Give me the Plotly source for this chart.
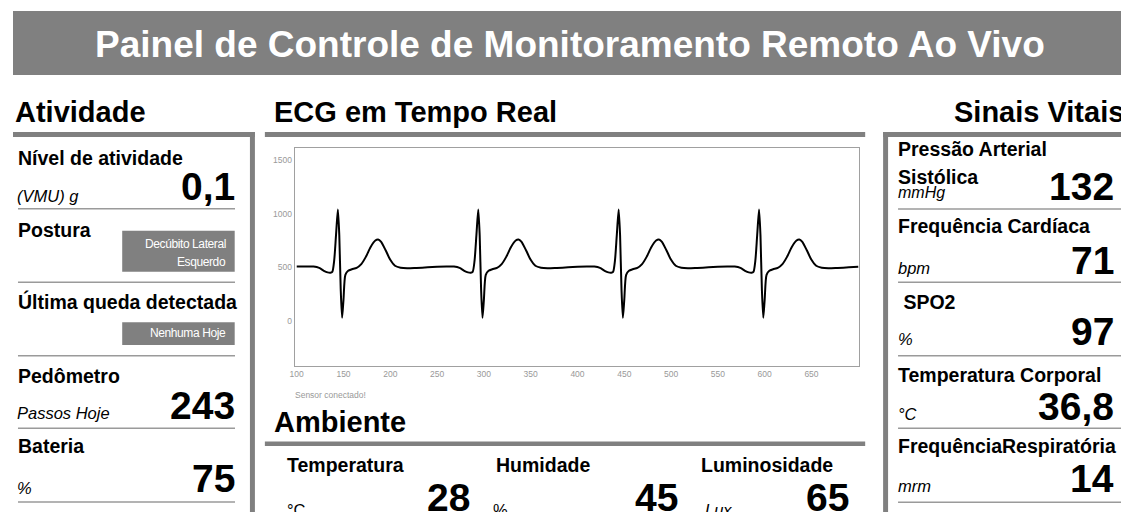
import plotly.graph_objects as go

OFF = 8                      # page body margin
W, H = 1129 - OFF, 512 - OFF
FONT = "Liberation Sans, Arial, Helvetica, sans-serif"
GRAY = "#808080"
SEP = "#9a9a9a"

# ---------------- data ----------------
TITLE = "Painel de Controle de Monitoramento Remoto Ao Vivo"
SECTIONS = ["Atividade", "ECG em Tempo Real", "Ambiente", "Sinais Vitais"]

ACT_LABELS = ["Nível de atividade", "Postura", "Última queda detectada", "Pedômetro", "Bateria"]
ACT_UNITS = ["(VMU) g", "", "", "Passos Hoje", "%"]
ACT_VALUES = ["0,1", "Decúbito Lateral<br>Esquerdo", "Nenhuma Hoje", "243", "75"]

VIT_LABELS = ["Pressão Arterial<br>Sistólica", "Frequência Cardíaca", " SPO2",
              "Temperatura Corporal", "FrequênciaRespiratória"]
VIT_UNITS = ["mmHg", "bpm", "%", "°C", "mrm"]
VIT_VALUES = ["132", "71", "97", "36,8", "14"]

ENV_LABELS = ["Temperatura", "Humidade", "Luminosidade"]
ENV_UNITS = ["°C", "%", "Lux"]
ENV_VALUES = ["28", "45", "65"]

STATUS = "Sensor conectado!"

ECG_X = [
    100, 110, 118, 124, 129, 133, 136, 138, 140, 142, 144, 145.5, 147, 148.5, 150, 152, 155, 159,
    164, 169, 174, 179, 184, 187, 190, 195, 200, 205, 211, 218, 228, 240,
    250, 260, 268, 274, 279, 283, 286, 288, 290, 292, 294, 295.5, 297, 298.5, 300, 302, 305, 309,
    314, 319, 324, 329, 334, 337, 340, 345, 350, 355, 361, 368, 378, 390,
    400, 410, 418, 424, 429, 433, 436, 438, 440, 442, 444, 445.5, 447, 448.5, 450, 452, 455, 459,
    464, 469, 474, 479, 484, 487, 490, 495, 500, 505, 511, 518, 528, 540,
    550, 560, 568, 574, 579, 583, 586, 588, 590, 592, 594, 595.5, 597, 598.5, 600, 602, 605, 609,
    614, 619, 624, 629, 634, 637, 640, 645, 650, 655, 661, 668, 678, 690,
    700,
]
ECG_Y = [
    508, 508, 507, 495, 468, 453, 450, 458, 560, 800, 1040, 800, 300, 30, 200, 430, 468, 482,
    495, 530, 600, 690, 750, 760, 740, 660, 570, 515, 497, 492, 495, 500,
    505, 508, 507, 495, 468, 453, 450, 458, 560, 800, 1040, 800, 300, 30, 200, 430, 468, 482,
    495, 530, 600, 690, 750, 760, 740, 660, 570, 515, 497, 492, 495, 500,
    505, 508, 507, 495, 468, 453, 450, 458, 560, 800, 1040, 800, 300, 30, 200, 430, 468, 482,
    495, 530, 600, 690, 750, 760, 740, 660, 570, 515, 497, 492, 495, 500,
    505, 508, 507, 495, 468, 453, 450, 458, 560, 800, 1040, 800, 300, 30, 200, 430, 468, 482,
    495, 530, 600, 690, 750, 760, 740, 660, 570, 515, 497, 492, 495, 500,
    505,
]
X_TICKS = [100, 150, 200, 250, 300, 350, 400, 450, 500, 550, 600, 650]
Y_TICKS = [0, 500, 1000, 1500]

# ---------------- helpers (screen pixel -> paper) ----------------
ann = []
shp = []


def X(p):
    return (p - OFF) / W


def Y(p):
    return 1 - (p - OFF) / H


def text(x, base, s, size, anchor="left", bold=False, italic=False, color="#000000", spacing=None):
    if spacing is not None:
        s = f'<span style="letter-spacing:{spacing}px">{s}</span>'
    ann.append(dict(
        x=X(x), y=Y(base - 0.35 * size), xref="paper", yref="paper", text=s,
        showarrow=False, xanchor=anchor, yanchor="middle", borderpad=0, borderwidth=0,
        font=dict(family=FONT, size=size, color=color,
                  weight="bold" if bold else "normal",
                  style="italic" if italic else "normal"),
    ))


def rect(x0, y0, x1, y1, color):
    shp.append(dict(type="rect", xref="paper", yref="paper", x0=X(x0), x1=X(x1),
                    y0=Y(y1), y1=Y(y0), fillcolor=color, line=dict(width=0), layer="below"))


def hline(x0, x1, y, color=SEP, width=1.5):
    shp.append(dict(type="line", xref="paper", yref="paper", x0=X(x0), x1=X(x1),
                    y0=Y(y), y1=Y(y), line=dict(color=color, width=width)))


# ---------------- title ----------------
rect(8, 11, 1129, 75, GRAY)
text(567, 57.5, TITLE, 37, anchor="center", bold=True, color="#ffffff")

# ---------------- section headings & frames ----------------
HS = 29
text(10, 122.3, SECTIONS[0], HS, bold=True)
text(270, 122.3, SECTIONS[1], HS, bold=True)
text(270, 432, SECTIONS[2], HS, bold=True)
text(1123.5, 122.3, SECTIONS[3], HS, anchor="right", bold=True)

rect(8, 132, 251, 137, GRAY)       # activity top bar
rect(246, 132, 251, 512, GRAY)     # activity right bar
rect(261, 132, 864, 137, GRAY)     # ECG top bar
rect(261, 441.5, 864, 446, GRAY)   # ambient top bar
rect(882, 132, 1129, 137, GRAY)    # vitals top bar
rect(882, 132, 887, 512, GRAY)     # vitals left bar

LS, US, VS = 19.5, 16.5, 39

# ---------------- activity panel ----------------
act_label_base = [165, 236.7, 308.3, 383.3, 453.3]
act_unit_base = [201.7, None, None, 418.3, 494]
act_value_base = [200, None, None, 419.3, 491.7]
act_sep = [208.7, 282.3, 355.7, 428.3, 502]
act_box = [None, (230.7, 271.7, [248, 266]), (322.3, 345, [337]), None, None]

for i, lab in enumerate(ACT_LABELS):
    text(13, act_label_base[i], lab, LS, bold=True)
    if act_box[i] is not None:
        y0, y1, bases = act_box[i]
        rect(117.7, y0, 230.7, y1, GRAY)
        for ln, b in zip(ACT_VALUES[i].split("<br>"), bases):
            text(222, b, ln, 12, anchor="right", color="#ffffff", spacing=-0.4)
    else:
        text(12, act_unit_base[i], ACT_UNITS[i], US, italic=True)
        text(230.5, act_value_base[i], ACT_VALUES[i], VS, anchor="right", bold=True)
    hline(13, 231, act_sep[i])

# ---------------- vitals panel ----------------
vit_label_base = [[156, 184], [232.7], [309.3], [381.7], [453.3]]
vit_unit_base = [198, 273.3, 345, 420, 491.7]
vit_value_base = [200, 274.3, 345, 420, 491.7]
vit_sep = [209, 282.3, 355.7, 428.3, 502.3]

for i, lab in enumerate(VIT_LABELS):
    for ln, b in zip(lab.split("<br>"), vit_label_base[i]):
        text(897, b, ln.replace(" ", "&nbsp;") if ln.startswith(" ") else ln, LS, bold=True)
    text(897, vit_unit_base[i], VIT_UNITS[i], 16 if i == 0 else US, italic=True)
    text(1113.5, vit_value_base[i], VIT_VALUES[i], VS, anchor="right", bold=True)
    hline(897, 1123, vit_sep[i])

# ---------------- ambient row ----------------
env_label_x = [283, 493, 699]
env_unit_x = [283, 490, 703]
env_value_x = [467, 676, 848]
for i, lab in enumerate(ENV_LABELS):
    text(env_label_x[i], 471.7, lab, LS, bold=True)
    text(env_unit_x[i], 516, ENV_UNITS[i], US, italic=(i == 2))
    text(env_value_x[i], 511, ENV_VALUES[i], VS, anchor="right", bold=True)

# ---------------- ECG ----------------
text(291, 398, STATUS, 8.5, color="#999999")

fig = go.Figure(go.Scatter(
    x=ECG_X, y=ECG_Y, mode="lines",
    line=dict(color="#000000", width=2, shape="spline", smoothing=0.7),
    hoverinfo="skip",
))

fig.update_layout(
    width=W, height=H, margin=dict(l=0, r=0, t=0, b=0),
    paper_bgcolor="#ffffff", plot_bgcolor="#ffffff",
    showlegend=False,
    xaxis=dict(domain=[X(291), X(858)], range=[97.9, 701], tickvals=X_TICKS,
               showline=True, mirror=True, linecolor="#a0a0a0", linewidth=1,
               showgrid=False, zeroline=False, ticks="",
               tickfont=dict(family=FONT, size=8.5, color="#999999")),
    yaxis=dict(domain=[Y(366), Y(148)], range=[-419, 1612], tickvals=Y_TICKS,
               showline=True, mirror=True, linecolor="#a0a0a0", linewidth=1,
               showgrid=False, zeroline=False, ticks="",
               tickfont=dict(family=FONT, size=8.5, color="#999999")),
    annotations=ann, shapes=shp,
)

fig.write_html("out.html")
